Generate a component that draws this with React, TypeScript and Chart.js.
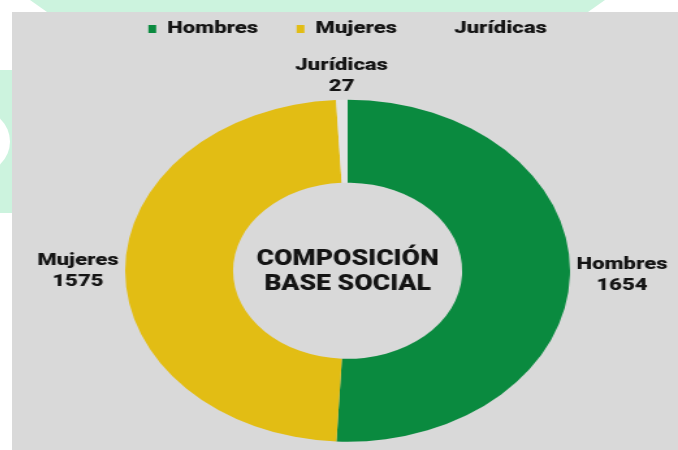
import React, { useEffect, useRef } from 'react';
import { Chart, registerables } from 'chart.js';

Chart.register(...registerables);

// ---- data ----
const categories: string[] = ['Hombres', 'Mujeres', 'Jurídicas'];
const values: number[] = [1654, 1575, 27];
const sliceColors: string[] = ['#0a8a3f', '#e2bd14', '#e3e3e3'];
const hiddenLegendBox: boolean[] = [false, false, true];
const centerLines: string[] = ['COMPOSICIÓN', 'BASE SOCIAL'];

// ---- style ----
const PANEL_BG = '#d9d9d9';
const TEXT = '#141414';
const FONT = 'Roboto, "Liberation Sans", Arial, sans-serif';
const CANVAS_W = 512; // drawn width, stretched to 666 css px
const CANVAS_H = 482; // panel clips it at 438

const sliceLabels = {
  id: 'sliceLabels',
  afterDatasetsDraw(chart: any) {
    const { ctx } = chart;
    const meta = chart.getDatasetMeta(0);
    const labels = chart.data.labels as string[];
    const data = chart.data.datasets[0].data as number[];
    const lh = 21;
    const gap = 5;
    ctx.save();
    ctx.fillStyle = TEXT;
    ctx.font = `900 17px ${FONT}`;
    ctx.textBaseline = 'middle';
    ctx.textAlign = 'center';
    meta.data.forEach((arc: any, i: number) => {
      const p = arc.getProps(['x', 'y', 'startAngle', 'endAngle', 'outerRadius'], true);
      const a = (p.startAngle + p.endAngle) / 2;
      const c = Math.cos(a);
      const s = Math.sin(a);
      const ax = p.x + (p.outerRadius + gap) * c;
      const ay = p.y + (p.outerRadius + gap) * s;
      const lines = [String(labels[i]), String(data[i])];
      const maxW = Math.max(...lines.map((t) => ctx.measureText(t).width));
      let cx = ax;
      let top: number;
      if (Math.abs(c) > 0.5) {
        cx = c > 0 ? ax + maxW / 2 : ax - maxW / 2;
        top = ay - lh;
      } else {
        top = s < 0 ? ay - 2 * lh + 2 : ay;
      }
      lines.forEach((t, k) => ctx.fillText(t, cx, top + lh * (k + 0.5)));
    });
    ctx.restore();
  },
};

const centerText = {
  id: 'centerText',
  afterDatasetsDraw(chart: any) {
    const { ctx } = chart;
    const arc = chart.getDatasetMeta(0).data[0];
    if (!arc) return;
    const { x, y } = arc.getProps(['x', 'y'], true);
    ctx.save();
    ctx.fillStyle = TEXT;
    ctx.font = `900 22px ${FONT}`;
    ctx.textAlign = 'center';
    ctx.textBaseline = 'middle';
    ctx.translate(x, y);
    ctx.scale(0.93, 1);
    const lh = 25;
    centerLines.forEach((t, k) => {
      ctx.fillText(t, 0, 1 + (k - (centerLines.length - 1) / 2) * lh);
    });
    ctx.restore();
  },
};

export default function App() {
  const ref = useRef<HTMLCanvasElement | null>(null);

  useEffect(() => {
    if (!ref.current) return;
    const chart = new Chart(ref.current, {
      type: 'doughnut',
      data: {
        labels: categories,
        datasets: [
          {
            data: values,
            backgroundColor: sliceColors,
            borderWidth: 0,
            radius: 171,
            cutout: '51.5%',
          } as any,
        ],
      },
      options: {
        responsive: false,
        animation: false,
        devicePixelRatio: 1,
        layout: { padding: { top: -21, bottom: 0, left: 4, right: 0 } },
        plugins: {
          tooltip: { enabled: false },
          legend: {
            position: 'top',
            labels: {
              boxWidth: 6,
              boxHeight: 8,
              padding: 29.5,
              color: TEXT,
              font: { family: FONT, size: 17, weight: '900' },
              generateLabels(c: any) {
                const items = Chart.overrides.doughnut.plugins.legend.labels.generateLabels(c);
                return items.map((it: any, i: number) =>
                  hiddenLegendBox[i]
                    ? { ...it, fillStyle: 'rgba(0,0,0,0)', strokeStyle: 'rgba(0,0,0,0)' }
                    : it
                );
              },
            },
          },
        },
      } as any,
      plugins: [sliceLabels, centerText],
    });
    return () => chart.destroy();
  }, []);

  return (
    <div style={{ position: 'fixed', left: 0, top: 0, width: 678, height: 450, background: '#ffffff', overflow: 'hidden' }}>
      <div
        style={{
          position: 'absolute', left: 0, top: 0, width: 678, height: 14, background: '#ccf3de',
          clipPath: 'polygon(30px 0, 605px 0, 588px 12px, 47px 12px)',
        }}
      />
      <div style={{ position: 'absolute', left: 0, top: 70, width: 14, height: 143, background: '#ccf3de' }} />
      <div style={{ position: 'absolute', left: -54, top: 110, width: 64, height: 63, borderRadius: '50%', background: '#ffffff' }} />
      <div style={{ position: 'absolute', left: 12, top: 12, width: 666, height: 438, background: PANEL_BG, overflow: 'hidden' }}>
        <canvas
          ref={ref}
          width={CANVAS_W}
          height={CANVAS_H}
          style={{ display: 'block', width: '666px', height: `${CANVAS_H}px` }}
        />
      </div>
    </div>
  );
}
